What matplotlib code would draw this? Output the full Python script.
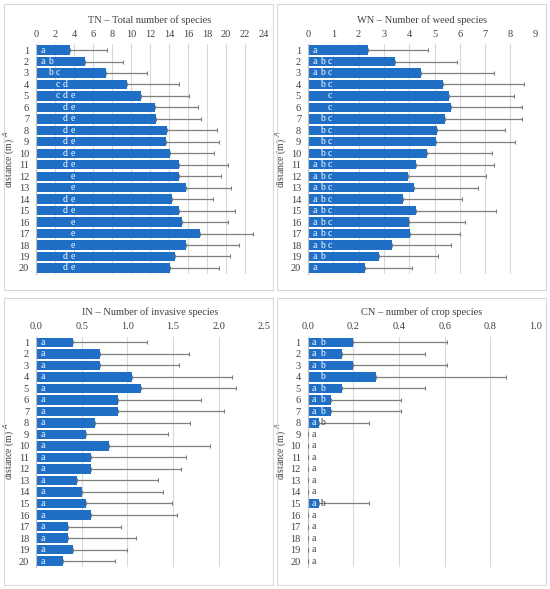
import numpy as np
import matplotlib
matplotlib.use("Agg")
import matplotlib.pyplot as plt
from matplotlib.patches import Rectangle

# distances (m)
distance = list(range(1, 21))

# TN - total number of species
tn_mean = [3.6, 5.15, 7.35, 9.6, 11.1, 12.5, 12.6, 13.8, 13.65, 14.1,
           15.0, 15.05, 15.75, 14.3, 15.1, 15.4, 17.3, 15.75, 14.6, 14.1]
tn_sd = [3.9, 4.05, 4.35, 5.5, 5.0, 4.6, 4.8, 5.2, 5.65, 4.6,
         5.2, 4.45, 4.75, 4.3, 5.8, 4.8, 5.5, 5.65, 5.8, 5.2]
tn_letters = ["a", "ab", "bc", "cd", "cde", "de", "de", "de", "de", "de",
              "de", "e", "e", "de", "de", "e", "e", "e", "de", "de"]

# WN - number of weed species
wn_mean = [2.38, 3.43, 4.48, 5.34, 5.59, 5.64, 5.40, 5.09, 5.05, 4.69,
           4.28, 3.94, 4.19, 3.74, 4.28, 3.99, 4.04, 3.33, 2.79, 2.24]
wn_sd = [2.38, 2.47, 2.88, 3.21, 2.57, 2.82, 3.07, 2.71, 3.13, 2.57,
         3.07, 3.10, 2.54, 2.36, 3.16, 2.21, 1.98, 2.31, 2.34, 1.88]
wn_letters = ["a", "abc", "abc", "bc", "c", "c", "bc", "bc", "bc", "bc",
              "abc", "abc", "abc", "abc", "abc", "abc", "abc", "abc", "ab", "a"]

# IN - number of invasive species
in_mean = [0.4, 0.7, 0.7, 1.05, 1.15, 0.9, 0.9, 0.65, 0.55, 0.8,
           0.6, 0.6, 0.45, 0.5, 0.55, 0.6, 0.35, 0.35, 0.4, 0.3]
in_sd = [0.82, 0.98, 0.87, 1.10, 1.04, 0.91, 1.16, 1.04, 0.89, 1.10,
         1.04, 0.99, 0.89, 0.89, 0.94, 0.94, 0.58, 0.75, 0.60, 0.57]
in_letters = ["a"] * 20

# CN - number of crop species
cn_mean = [0.2, 0.15, 0.2, 0.3, 0.15, 0.1, 0.1, 0.05, 0, 0,
           0, 0, 0, 0, 0.05, 0, 0, 0, 0, 0]
cn_sd = [0.41, 0.365, 0.41, 0.57, 0.365, 0.31, 0.31, 0.22, 0, 0,
         0, 0, 0, 0, 0.22, 0, 0, 0, 0, 0]
cn_letters = ["ab", "ab", "ab", "b", "ab", "ab", "ab", "ab", "a", "a",
              "a", "a", "a", "a", "ab", "a", "a", "a", "a", "a"]

tn_ticks = list(range(0, 25, 2))
wn_ticks = list(range(0, 10))
in_ticks = [0.0, 0.5, 1.0, 1.5, 2.0, 2.5]
cn_ticks = [0.0, 0.2, 0.4, 0.6, 0.8, 1.0]

plt.rcParams['font.family'] = ['Liberation Serif', 'DejaVu Serif']

W, H = 550, 589
fig = plt.figure(figsize=(W / 100, H / 100), dpi=100)

bar_color = "#1f6fc6"
err_color = "#7f7f7f"
# horizontal offset (px) of each letter column from the zero line
letter_px = {"a": 6.5, "b": 14.5, "c": 22, "d": 29.5, "e": 37}

panels = [
    ("TN \u2013 Total number of species", tn_mean, tn_sd, tn_letters, tn_ticks, "%d",
     (36, 264, 44.3, 273.7), (4, 4, 269, 286)),
    ("WN \u2013 Number of weed species", wn_mean, wn_sd, wn_letters, wn_ticks, "%d",
     (308, 535.7, 44.3, 273.7), (277, 4, 269, 286)),
    ("IN \u2013 Number of invasive species", in_mean, in_sd, in_letters, in_ticks, "%.1f",
     (36, 264.3, 336.6, 566.8), (4, 298, 269, 287)),
    ("CN \u2013 number of crop species", cn_mean, cn_sd, cn_letters, cn_ticks, "%.1f",
     (307.7, 536, 336.6, 566.8), (277, 298, 269, 287)),
]

for title, mean, sd, letters, ticks, fmt, (x0, x1, yt, yb), frame in panels:
    # panel frame
    fx, fy, fw, fh = frame
    fig.patches.append(Rectangle((fx / W, 1 - (fy + fh) / H), fw / W, fh / H,
                                 transform=fig.transFigure, fill=False,
                                 edgecolor="#d9d9d9", linewidth=0.8))
    ax = fig.add_axes([x0 / W, 1 - yb / H, (x1 - x0) / W, (yb - yt) / H])
    y = np.arange(len(distance))
    ax.barh(y, mean, height=0.82, color=bar_color, zorder=2)
    ax.errorbar(mean, y, xerr=[np.zeros(len(sd)), sd], fmt="none",
                ecolor=err_color, elinewidth=0.9, capsize=1.5, capthick=0.8, zorder=3)
    ax.set_xlim(ticks[0], ticks[-1])
    ax.set_ylim(len(distance) - 0.5, -0.5)
    ax.set_xticks(ticks)
    ax.set_xticklabels([fmt % t for t in ticks])
    ax.xaxis.tick_top()
    ax.set_yticks(y)
    ax.set_yticklabels([str(d) for d in distance])
    ax.tick_params(axis="both", length=0, labelsize=7.5, colors="#404040")
    ax.tick_params(axis="y", pad=5)
    ax.tick_params(axis="x", pad=4)
    ax.grid(axis="x", color="#d9d9d9", linewidth=0.8, zorder=0)
    ax.set_axisbelow(True)
    for s in ["top", "right", "bottom"]:
        ax.spines[s].set_visible(False)
    ax.spines["left"].set_color("#bfbfbf")
    ax.spines["left"].set_linewidth(0.8)
    ax.set_ylabel("distance (m) $^{A}$", fontsize=7, color="#404040", labelpad=1)
    ax.text(0.5, 1 + 24 / (yb - yt), title, transform=ax.transAxes,
            ha="center", va="center", fontsize=7.5, color="#404040")

    # significance letters
    px_per_unit = (x1 - x0) / (ticks[-1] - ticks[0])
    for i, (m, lab) in enumerate(zip(mean, letters)):
        bar_end_px = m * px_per_unit
        for ch in lab:
            off = letter_px[ch]
            col = "white" if off + 2 < bar_end_px else "#404040"
            ax.annotate(ch, xy=(0, i), xytext=(off * 0.72, 0),
                        textcoords="offset points", ha="center", va="center",
                        fontsize=7, color=col, zorder=4)

fig.savefig("out.png", dpi=100)
